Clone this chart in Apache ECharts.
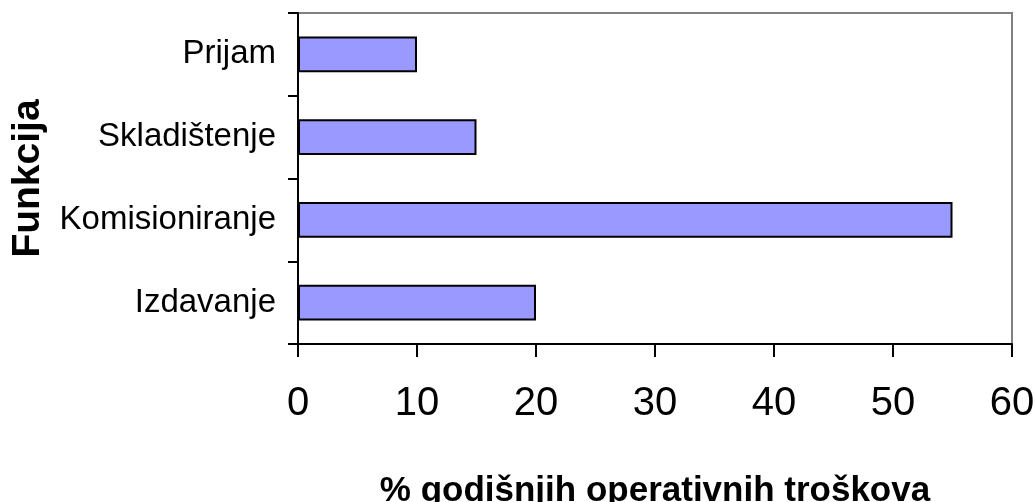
<!DOCTYPE html>
<html>
<head>
<meta charset="utf-8">
<script src="https://cdn.jsdelivr.net/npm/echarts@6/dist/echarts.min.js"></script>
<style>html,body{margin:0;padding:0;background:#fff;}#c{width:1035px;height:502px;}</style>
</head>
<body>
<div id="c"></div>
<script>
const categories = ['Prijam', 'Skladištenje', 'Komisioniranje', 'Izdavanje'];
const values = [10, 15, 55, 20];
const xTicks = [0, 10, 20, 30, 40, 50, 60];
const xName = '% godišnjih operativnih troškova';
const yName = 'Funkcija';

const chart = echarts.init(document.getElementById('c'), null, {renderer: 'canvas'});
chart.setOption({
  animation: false,
  backgroundColor: '#ffffff',
  grid: {left: 298, right: 23, top: 13, bottom: 158, containLabel: false, outerBoundsMode: 'none',
         show: true, borderColor: '#808080', borderWidth: 2, backgroundColor: 'transparent'},
  xAxis: {
    type: 'value', min: xTicks[0], max: xTicks[xTicks.length - 1], interval: 10,
    name: xName, nameLocation: 'middle', nameGap: 130, nameMoveOverlap: false,
    nameTextStyle: {fontFamily: 'Liberation Sans, Arial, sans-serif', fontWeight: 'bold', fontSize: 35, color: '#000'},
    axisLine: {show: true, lineStyle: {color: '#000', width: 2}},
    axisTick: {show: true, length: 13, lineStyle: {color: '#000', width: 2}},
    axisLabel: {margin: 40, fontFamily: 'Liberation Sans, Arial, sans-serif', fontSize: 40, color: '#000'},
    splitLine: {show: false}
  },
  yAxis: {
    type: 'category', data: categories, inverse: true,
    name: yName, nameLocation: 'middle', nameGap: 250, nameMoveOverlap: false,
    nameTextStyle: {fontFamily: 'Liberation Sans, Arial, sans-serif', fontWeight: 'bold', fontSize: 39, color: '#000'},
    axisLine: {show: true, lineStyle: {color: '#000', width: 2}},
    axisTick: {show: true, length: 10, lineStyle: {color: '#000', width: 2}},
    axisLabel: {margin: 22, fontFamily: 'Liberation Sans, Arial, sans-serif', fontSize: 33, color: '#000'}
  },
  series: [{
    type: 'bar', data: values, barCategoryGap: '57%',
    itemStyle: {color: '#9999ff', borderColor: '#000', borderWidth: 2}
  }]
});
</script>
</body>
</html>
